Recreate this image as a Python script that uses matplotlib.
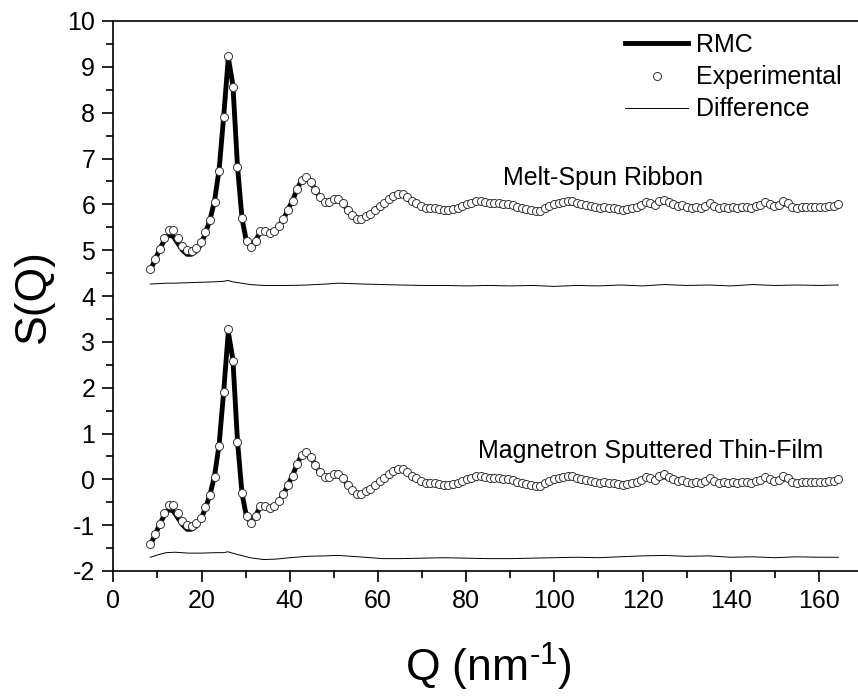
import matplotlib
matplotlib.use('Agg')
import matplotlib.pyplot as plt
from matplotlib.ticker import MultipleLocator

plt.rcParams['font.family'] = ['Liberation Sans', 'DejaVu Sans']
plt.rcParams['mathtext.fontset'] = 'custom'
plt.rcParams['mathtext.rm'] = 'Liberation Sans'
plt.rcParams['mathtext.default'] = 'regular'
plt.rcParams['axes.unicode_minus'] = False

# Q values of the experimental points (nm^-1)
q_exp = [8.40, 9.44, 10.48, 11.52, 12.56, 13.60, 14.64, 15.68, 16.72, 17.76,
         18.80, 19.84, 20.88, 21.92, 22.96, 24.00, 25.04, 26.08, 27.12, 28.16,
         29.20, 30.24, 31.28, 32.32, 33.36, 34.40, 35.44, 36.48, 37.52, 38.56,
         39.60, 40.64, 41.68, 42.72, 43.76, 44.80, 45.84, 46.88, 47.92, 48.96,
         50.00, 51.04, 52.08, 53.12, 54.16, 55.20, 56.24, 57.28, 58.32, 59.36,
         60.40, 61.44, 62.48, 63.52, 64.56, 65.60, 66.64, 67.68, 68.72, 69.76,
         70.80, 71.84, 72.88, 73.92, 74.96, 76.00, 77.04, 78.08, 79.12, 80.16,
         81.20, 82.24, 83.28, 84.32, 85.36, 86.40, 87.44, 88.48, 89.52, 90.56,
         91.60, 92.64, 93.68, 94.72, 95.76, 96.80, 97.84, 98.88, 99.92, 100.96,
         102.00, 103.04, 104.08, 105.12, 106.16, 107.20, 108.24, 109.28, 110.32, 111.36,
         112.40, 113.44, 114.48, 115.52, 116.56, 117.60, 118.64, 119.68, 120.72, 121.76,
         122.80, 123.84, 124.88, 125.92, 126.96, 128.00, 129.04, 130.08, 131.12, 132.16,
         133.20, 134.24, 135.28, 136.32, 137.36, 138.40, 139.44, 140.48, 141.52, 142.56,
         143.60, 144.64, 145.68, 146.72, 147.76, 148.80, 149.84, 150.88, 151.92, 152.96,
         154.00, 155.04, 156.08, 157.12, 158.16, 159.20, 160.24, 161.28, 162.32, 163.36,
         164.40]

# Melt-spun ribbon (shifted up by 6)
ribbon_exp = [4.59, 4.80, 5.03, 5.27, 5.45, 5.43, 5.26, 5.10, 5.00, 4.99,
              5.05, 5.17, 5.39, 5.66, 6.06, 6.73, 7.90, 9.24, 8.57, 6.81,
              5.71, 5.21, 5.06, 5.19, 5.42, 5.41, 5.37, 5.42, 5.52, 5.67,
              5.88, 6.08, 6.33, 6.53, 6.60, 6.49, 6.31, 6.15, 6.06, 6.06,
              6.12, 6.12, 6.02, 5.88, 5.76, 5.69, 5.69, 5.75, 5.80, 5.88,
              5.96, 6.03, 6.11, 6.18, 6.23, 6.22, 6.16, 6.08, 6.02, 5.96,
              5.93, 5.93, 5.92, 5.90, 5.87, 5.87, 5.90, 5.93, 5.96, 6.00,
              6.04, 6.08, 6.08, 6.06, 6.04, 6.04, 6.03, 6.01, 6.01, 5.98,
              5.95, 5.93, 5.90, 5.88, 5.86, 5.86, 5.91, 5.96, 6.01, 6.04,
              6.05, 6.07, 6.07, 6.03, 6.01, 5.99, 5.96, 5.94, 5.93, 5.94,
              5.92, 5.91, 5.89, 5.88, 5.90, 5.92, 5.95, 5.99, 6.05, 6.03,
              5.98, 6.07, 6.10, 6.06, 6.00, 5.97, 5.99, 5.95, 5.93, 5.94,
              5.92, 5.97, 6.03, 5.96, 5.93, 5.94, 5.93, 5.95, 5.93, 5.94,
              5.95, 5.93, 5.96, 5.99, 6.05, 6.00, 5.96, 5.99, 6.07, 6.02,
              5.94, 5.93, 5.94, 5.95, 5.94, 5.95, 5.94, 5.95, 5.96, 5.97,
              6.00]

ribbon_rmc = [4.57, 4.78, 5.01, 5.21, 5.33, 5.30, 5.15, 5.00, 4.91, 4.91,
              4.98, 5.12, 5.37, 5.66, 6.08, 6.76, 7.93, 9.20, 8.60, 6.83,
              5.68, 5.17, 5.07, 5.22, 5.40, 5.40, 5.37, 5.42, 5.52, 5.67,
              5.88, 6.08, 6.33, 6.53, 6.58, 6.49, 6.31, 6.15, 6.06, 6.06,
              6.12, 6.12, 6.02, 5.88, 5.76, 5.69, 5.69, 5.75, 5.80, 5.88,
              5.96, 6.03, 6.11, 6.18, 6.23, 6.22, 6.16, 6.08, 6.02, 5.96,
              5.93, 5.92, 5.91, 5.89, 5.88, 5.88, 5.90, 5.93, 5.96, 6.00,
              6.03, 6.06, 6.06, 6.05, 6.04, 6.03, 6.02, 6.01, 6.00, 5.98,
              5.95, 5.93, 5.90, 5.88, 5.87, 5.87, 5.91, 5.96, 6.00, 6.03,
              6.04, 6.05, 6.05, 6.03, 6.01, 5.99, 5.96, 5.94, 5.93, 5.93,
              5.92, 5.91, 5.90, 5.90, 5.91, 5.93, 5.95, 5.98, 6.01, 6.02,
              6.02, 6.04, 6.05, 6.04, 6.00, 5.98, 5.97, 5.95, 5.94, 5.94,
              5.94, 5.96, 5.98, 5.96, 5.94, 5.94, 5.94, 5.94, 5.94, 5.94,
              5.95, 5.95, 5.96, 5.98, 6.00, 5.99, 5.97, 5.99, 6.01, 5.99,
              5.95, 5.94, 5.94, 5.94, 5.94, 5.95, 5.95, 5.95, 5.96, 5.97,
              6.00]

# Magnetron sputtered thin film
film_exp = [-1.41, -1.20, -0.98, -0.74, -0.55, -0.57, -0.74, -0.90, -1.00, -1.01,
            -0.95, -0.84, -0.61, -0.34, 0.06, 0.73, 1.91, 3.28, 2.59, 0.81,
            -0.29, -0.79, -0.96, -0.81, -0.58, -0.59, -0.63, -0.58, -0.48, -0.33,
            -0.12, 0.08, 0.33, 0.53, 0.60, 0.49, 0.31, 0.15, 0.06, 0.06,
            0.12, 0.12, 0.02, -0.12, -0.24, -0.31, -0.31, -0.25, -0.20, -0.12,
            -0.04, 0.03, 0.11, 0.18, 0.23, 0.22, 0.16, 0.08, 0.02, -0.04,
            -0.07, -0.07, -0.08, -0.10, -0.13, -0.13, -0.10, -0.07, -0.04, 0.00,
            0.04, 0.08, 0.08, 0.06, 0.04, 0.04, 0.03, 0.01, 0.01, -0.02,
            -0.05, -0.07, -0.10, -0.12, -0.14, -0.14, -0.09, -0.04, 0.01, 0.04,
            0.05, 0.07, 0.07, 0.03, 0.01, -0.01, -0.04, -0.06, -0.07, -0.06,
            -0.08, -0.09, -0.11, -0.12, -0.10, -0.08, -0.05, -0.01, 0.05, 0.03,
            -0.02, 0.07, 0.11, 0.06, 0.00, -0.03, -0.01, -0.05, -0.07, -0.06,
            -0.08, -0.03, 0.03, -0.04, -0.07, -0.06, -0.07, -0.05, -0.07, -0.06,
            -0.05, -0.07, -0.04, -0.01, 0.05, 0.00, -0.04, -0.01, 0.07, 0.02,
            -0.06, -0.07, -0.06, -0.05, -0.06, -0.05, -0.06, -0.05, -0.04, -0.03,
            0.00]

film_rmc = [-1.43, -1.22, -0.99, -0.79, -0.66, -0.69, -0.84, -0.99, -1.09, -1.09,
            -1.02, -0.88, -0.63, -0.34, 0.08, 0.76, 1.93, 3.22, 2.61, 0.83,
            -0.32, -0.83, -0.93, -0.78, -0.60, -0.60, -0.63, -0.58, -0.48, -0.33,
            -0.12, 0.08, 0.33, 0.53, 0.58, 0.49, 0.31, 0.15, 0.06, 0.06,
            0.12, 0.12, 0.02, -0.12, -0.24, -0.31, -0.31, -0.25, -0.20, -0.12,
            -0.04, 0.03, 0.11, 0.18, 0.23, 0.22, 0.16, 0.08, 0.02, -0.04,
            -0.07, -0.08, -0.09, -0.11, -0.12, -0.12, -0.10, -0.07, -0.04, 0.00,
            0.03, 0.06, 0.06, 0.05, 0.04, 0.03, 0.02, 0.01, 0.00, -0.02,
            -0.05, -0.07, -0.10, -0.12, -0.13, -0.13, -0.09, -0.04, 0.00, 0.03,
            0.04, 0.05, 0.05, 0.03, 0.01, -0.01, -0.04, -0.06, -0.07, -0.07,
            -0.08, -0.09, -0.10, -0.10, -0.09, -0.07, -0.05, -0.02, 0.01, 0.02,
            0.02, 0.04, 0.05, 0.04, 0.00, -0.02, -0.03, -0.05, -0.06, -0.06,
            -0.06, -0.04, -0.02, -0.04, -0.06, -0.06, -0.06, -0.06, -0.06, -0.06,
            -0.05, -0.05, -0.04, -0.02, 0.00, -0.01, -0.03, -0.01, 0.01, -0.01,
            -0.05, -0.06, -0.06, -0.06, -0.06, -0.05, -0.05, -0.05, -0.04, -0.03,
            0.00]

# Difference curves
q_diff = [8.4, 10, 12, 14, 17, 20, 23, 25, 26, 27, 29, 31, 34, 37, 40, 44, 48, 51, 54, 57,
          61, 65, 70, 75, 80, 85, 90, 95, 100, 105, 110, 115, 120, 125, 130, 135, 140, 145,
          150, 155, 160, 164.4]
ribbon_diff = [4.26, 4.27, 4.28, 4.28, 4.29, 4.30, 4.31, 4.32, 4.34, 4.31, 4.28, 4.25, 4.23, 4.23,
               4.23, 4.24, 4.26, 4.28, 4.27, 4.26, 4.25, 4.24, 4.23, 4.23, 4.22, 4.23, 4.22, 4.23,
               4.21, 4.23, 4.22, 4.24, 4.22, 4.25, 4.23, 4.24, 4.22, 4.25, 4.23, 4.24, 4.23, 4.24]
film_diff = [-1.70, -1.65, -1.60, -1.59, -1.61, -1.61, -1.60, -1.60, -1.58, -1.61, -1.66, -1.71,
             -1.75, -1.74, -1.71, -1.68, -1.67, -1.66, -1.68, -1.70, -1.73, -1.73, -1.72, -1.71,
             -1.72, -1.73, -1.73, -1.72, -1.71, -1.70, -1.71, -1.69, -1.67, -1.66, -1.68, -1.67,
             -1.70, -1.69, -1.71, -1.69, -1.70, -1.70]

fig = plt.figure(figsize=(8.58, 6.96), dpi=100)
ax = fig.add_axes([113.3 / 858, 1 - 571 / 696, 170 * 4.41 / 858, 550 / 696])

# diferença, ajuste RMC e pontos experimentais (os círculos ficam por cima)
ax.plot(q_diff, ribbon_diff, color='black', lw=0.7, label='Difference')
ax.plot(q_diff, film_diff, color='black', lw=0.7)
ax.plot(q_exp, ribbon_rmc, color='black', lw=3.5, label='RMC')
ax.plot(q_exp, film_rmc, color='black', lw=3.5)
ax.plot(q_exp, ribbon_exp, 'o', ms=5.8, mfc='white', mec='#333333', mew=0.7, label='Experimental')
ax.plot(q_exp, film_exp, 'o', ms=5.8, mfc='white', mec='#333333', mew=0.7)

ax.text(88.4, 6.42, 'Melt-Spun Ribbon', fontsize=18, va='baseline')
ax.text(82.8, 0.46, 'Magnetron Sputtered Thin-Film', fontsize=18, va='baseline')

ax.set_xlim(0, 170)
ax.set_ylim(-2, 10)
ax.xaxis.set_major_locator(MultipleLocator(20))
ax.xaxis.set_minor_locator(MultipleLocator(10))
ax.yaxis.set_major_locator(MultipleLocator(1))
ax.yaxis.set_minor_locator(MultipleLocator(0.5))
ax.tick_params(which='major', direction='out', length=8, width=1.2, labelsize=18, pad=5)
ax.tick_params(which='minor', direction='out', length=5, width=1.2)
for sp in ax.spines.values():
    sp.set_linewidth(1.2)

ax.set_xlabel(r'Q (nm$^{\text{-1}}$)', fontsize=32, labelpad=20)
ax.set_ylabel('S(Q)', fontsize=32, labelpad=10)

handles, labels = ax.get_legend_handles_labels()
order = [1, 2, 0]
ax.legend([handles[i] for i in order], [labels[i] for i in order],
          loc='upper left', bbox_to_anchor=(625 / 858, 1 - 33 / 696),
          bbox_transform=fig.transFigure, frameon=False, fontsize=18,
          borderpad=0, borderaxespad=0, handlelength=2.52, handletextpad=0.32,
          labelspacing=0.33, numpoints=1)

plt.savefig('out.png', dpi=100)
